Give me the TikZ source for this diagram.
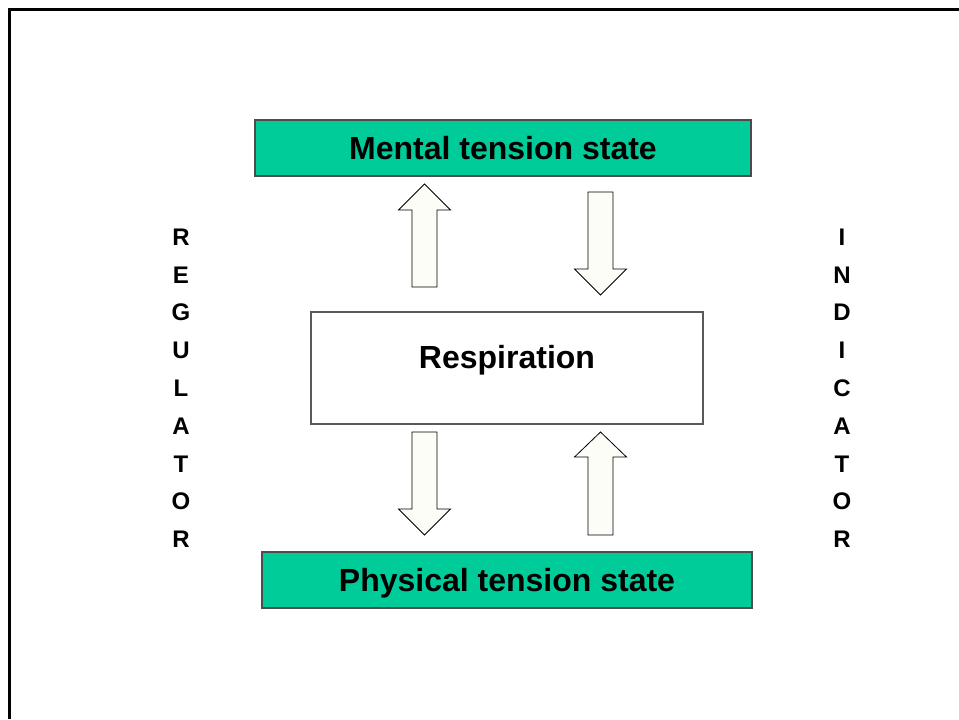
\documentclass[tikz,border=0pt]{standalone}
\usepackage{fontspec}
\setmainfont{Liberation Sans}
\usepackage{xcolor}
\usepackage{tikz}
\usetikzlibrary{positioning,calc}

\definecolor{boxgreen}{HTML}{00CC99}
\definecolor{arrowfill}{HTML}{FDFDF7}

\newcommand{\fatarrow}[4]{%
  \draw[fatarr] (#1-12.5,#2) -- (#1-12.5,#3) -- (#1-26,#3) -- (#1,#4)
    -- (#1+26,#3) -- (#1+12.5,#3) -- (#1+12.5,#2) -- cycle;}

\begin{document}
\begin{tikzpicture}[x=0.75pt,y=-0.75pt,
    greenbox/.style={draw=black!70, line width=0.9pt, fill=boxgreen,
      minimum height=42pt, inner sep=0pt, text height=17.2pt, text depth=0pt,
      font=\fontsize{24}{28}\selectfont\bfseries},
    whitebox/.style={draw=black!65, line width=0.9pt, fill=white,
      minimum width=294pt, minimum height=84pt, inner sep=0pt,
      text height=17.2pt, text depth=16.5pt,
      font=\fontsize{24}{28}\selectfont\bfseries},
    letter/.style={font=\fontsize{18}{22}\selectfont\bfseries, inner sep=0pt},
    fatarr/.style={draw=black, line width=0.6pt, fill=arrowfill}]
    \useasboundingbox (0,0) rectangle (959,719);
    \draw[line width=2.25pt] (9,719) -- (9,9) -- (959,9);

    \node[greenbox, minimum width=372pt] (mental) at (503,148) {Mental tension state};
    \node[greenbox, minimum width=367.5pt] (physical) at (507,580) {Physical tension state};
    \node[whitebox] (resp) at (507,368) {Respiration};

    \fatarrow{424.5}{287}{210}{184}
    \fatarrow{600.5}{192}{269}{295}
    \fatarrow{424.5}{432}{509}{535}
    \fatarrow{600.5}{535}{457}{432}

    \foreach \l [count=\i from 0] in {R,E,G,U,L,A,T,O,R}
      \node[letter] (reg\i) at (181,237+37.8*\i) {\l};
    \foreach \l [count=\i from 0] in {I,N,D,I,C,A,T,O,R}
      \node[letter] (ind\i) at (842,237+37.8*\i) {\l};
\end{tikzpicture}
\end{document}
